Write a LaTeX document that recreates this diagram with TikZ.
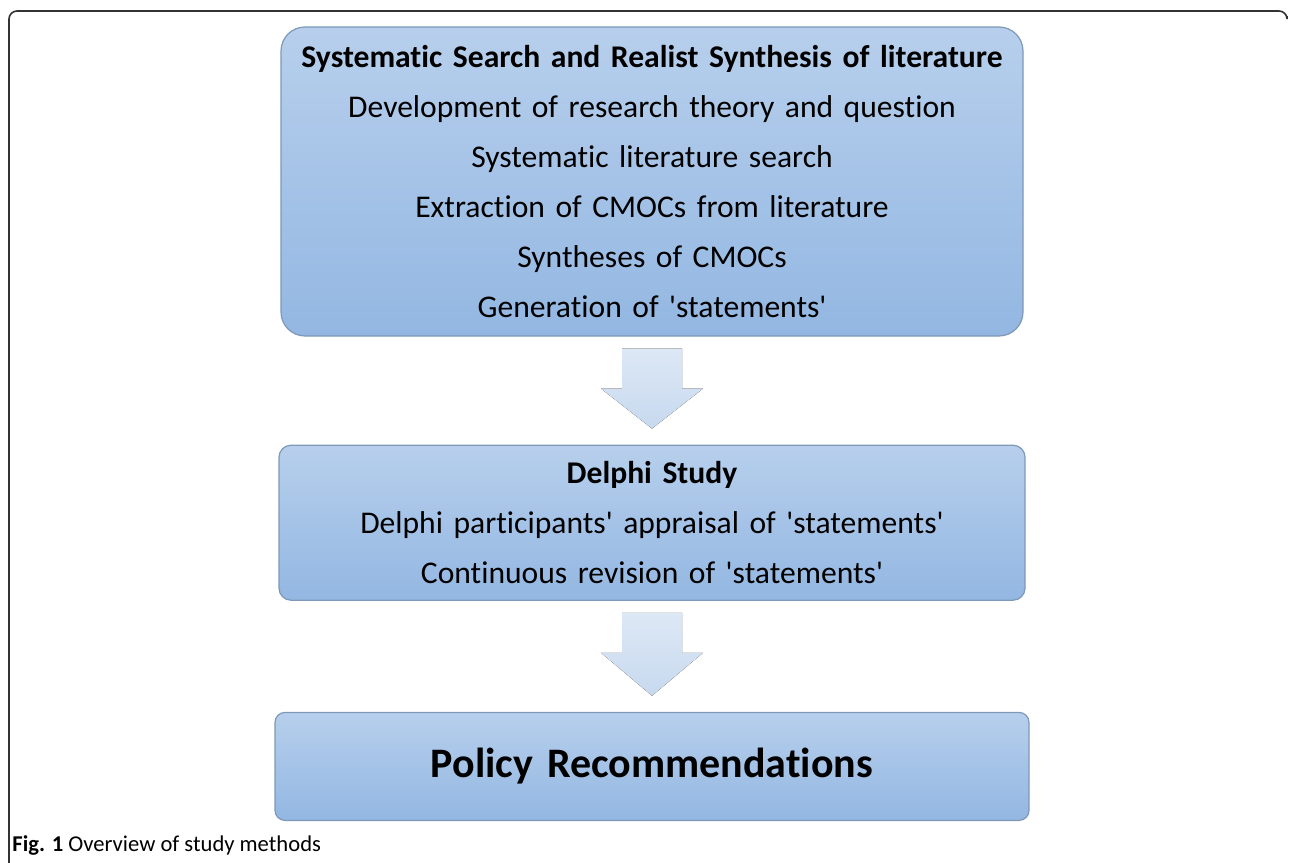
\documentclass[tikz,border=0pt]{standalone}
\usepackage{fontspec}
\setmainfont{Carlito}[Ligatures={NoCommon}]
\usetikzlibrary{positioning,calc}
\definecolor{boxtop}{HTML}{B7CFEC}
\definecolor{boxbot}{HTML}{93B7E2}
\definecolor{boxline}{HTML}{7E98B8}
\definecolor{arrtop}{HTML}{DDE8F5}
\definecolor{arrbot}{HTML}{C7D9EF}
\definecolor{frameline}{HTML}{333333}
\newcommand{\sq}{\textquotesingle}

\begin{document}
\begin{tikzpicture}[
        x=0.5pt, y=-0.5pt,
        node distance=54pt,
        stage/.style={draw=boxline, line width=0.6pt, top color=boxtop, bottom color=boxbot,
            align=center, inner xsep=0pt, font=\fontsize{15.8}{25}\selectfont},
        flowarrow/.style={top color=arrtop, bottom color=arrbot, draw=none}
    ]
    \useasboundingbox (0,0) rectangle (1290,862);
    % frame of the figure
    \draw[frameline, line width=0.8pt, rounded corners=4pt] (9,870) -- (9,11) -- (1287,11) -- (1287,16);
    % stages
    \node[stage, rounded corners=12pt, text width=371pt, minimum height=154.5pt] (search) at (652,181.5)
        {\textbf{Systematic Search and Realist Synthesis of literature}\\
         Development of research theory and question\\
         Systematic literature search\\
         Extraction of CMOCs from literature\\
         Syntheses of CMOCs\\
         Generation of \sq statements\sq};
    \node[stage, rounded corners=6pt, text width=373pt, minimum height=77.5pt, below=of search] (delphi)
        {\textbf{Delphi Study}\\
         Delphi participants\sq\ appraisal of \sq statements\sq\\
         Continuous revision of \sq statements\sq};
    \node[stage, rounded corners=5pt, text width=377pt, minimum height=54pt, below=55.5pt of delphi,
        font=\fontsize{21}{25}\selectfont\bfseries] (policy) {Policy Recommendations};
    % block arrows between the stages
    \foreach \a/\b in {search/delphi, delphi/policy}
        \fill[flowarrow] ($(\a.south)+(-30,12)$) -- ($(\a.south)+(30,12)$) -- ($(\a.south)+(30,52)$)
            -- ($(\a.south)+(51,52)$) -- ($(\b.north)+(0,-16)$) -- ($(\a.south)+(-51,52)$)
            -- ($(\a.south)+(-30,52)$) -- cycle;
    % caption
    \node[anchor=base west, inner sep=0pt, font=\fontsize{11.3}{13}\selectfont] (caption) at (12,851)
        {\textbf{Fig. 1} Overview of study methods};
\end{tikzpicture}
\end{document}
